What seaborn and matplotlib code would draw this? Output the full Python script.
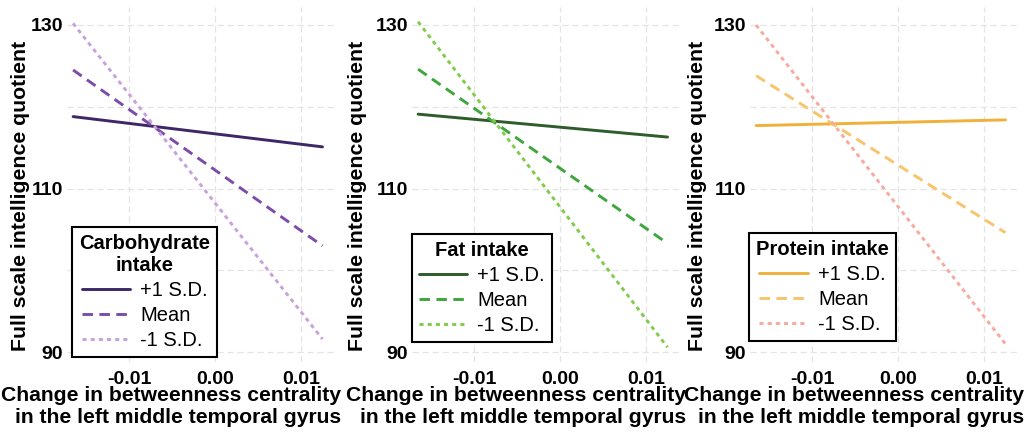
import matplotlib
matplotlib.use("Agg")
import matplotlib.pyplot as plt
import seaborn as sns
import pandas as pd

# ---- data ----
levels = ["+1 S.D.", "Mean", "-1 S.D."]
x_ends = [-0.0165, 0.0125]

carb_plus = [118.8, 115.1]
carb_mean = [124.5, 103.0]
carb_minus = [130.2, 91.6]

fat_plus = [119.1, 116.3]
fat_mean = [124.6, 103.3]
fat_minus = [130.4, 90.6]

prot_plus = [117.7, 118.4]
prot_mean = [123.8, 104.6]
prot_minus = [130.0, 91.0]

legend_titles = ["Carbohydrate\nintake", "Fat intake", "Protein intake"]
x_ticks = [-0.01, 0.00, 0.01]
x_tick_labels = ["-0.01", "0.00", "0.01"]
y_ticks = [90, 110, 130]
y_tick_labels = ["90", "110", "130"]
x_label = "Change in betweenness centrality\nin the left middle temporal gyrus"
y_label = "Full scale intelligence quotient"

palettes = [
    ["#3e2766", "#7d4caa", "#c8a2dc"],
    ["#2e5c2a", "#3ea63c", "#82cc4c"],
    ["#f0b13a", "#f8c46c", "#f6aaa0"],
]
series = [
    [carb_plus, carb_mean, carb_minus],
    [fat_plus, fat_mean, fat_minus],
    [prot_plus, prot_mean, prot_minus],
]

sns.set_theme(style="white")
plt.rcParams["font.family"] = ["Liberation Sans", "DejaVu Sans"]
for k in ["text.color", "axes.labelcolor", "xtick.color", "ytick.color"]:
    plt.rcParams[k] = "black"

W, H = 1029, 432
fig = plt.figure(figsize=(W / 100, H / 100), dpi=100)

zero_px = [215, 560, 898]
px_per_unit_x = 8600.0
ax_left_off, ax_right_off = 148, 122
ax_top, ax_bot = 7, 362
ylab_off = [41, 49, 47]
legend_ll = [(72, 357), (412, 342), (749, 341)]

dash_map = {"+1 S.D.": "", "Mean": (3.6, 2.2), "-1 S.D.": (1.4, 1.4)}

for i in range(3):
    l = zero_px[i] - ax_left_off
    r = zero_px[i] + ax_right_off
    axw = r - l
    axh = ax_bot - ax_top
    ax = fig.add_axes([l / W, (H - ax_bot) / H, axw / W, axh / H])
    rows = []
    for lev, ys in zip(levels, series[i]):
        for xv, yv in zip(x_ends, ys):
            rows.append({"x": xv, "y": yv, "level": lev})
    df = pd.DataFrame(rows)
    pal = dict(zip(levels, palettes[i]))
    sns.lineplot(data=df, x="x", y="y", hue="level", style="level",
                 palette=pal, dashes=dash_map, hue_order=levels, style_order=levels,
                 linewidth=2.1, ax=ax, legend=False)
    ax.set_xlim(-ax_left_off / px_per_unit_x, ax_right_off / px_per_unit_x)
    ax.set_ylim(88.8, 132.2)
    ax.set_xticks(x_ticks)
    ax.set_xticklabels(x_tick_labels, fontsize=14, fontweight="bold")
    ax.set_yticks(y_ticks)
    ax.set_yticklabels(y_tick_labels, fontsize=14, fontweight="bold")
    ax.set_yticks([100, 120], minor=True)
    ax.grid(True, which="both", color="#e4e4e4", linestyle=(0, (5, 3)), linewidth=0.9)
    ax.tick_params(axis="y", length=0, pad=3.0)
    ax.tick_params(axis="x", length=0, pad=6.5)
    ax.tick_params(axis="both", which="minor", length=0)
    for s in ax.spines.values():
        s.set_visible(False)
    ax.set_xlabel(x_label, fontsize=15.2, fontweight="bold", linespacing=1.2,
                  ha="right", multialignment="right")
    ax.xaxis.set_label_coords((axw + 4) / axw, -24 / axh)
    ax.xaxis.label.set_va("top")
    ax.set_ylabel(y_label, fontsize=15.3, fontweight="bold")
    ax.yaxis.label.set_va("baseline")
    ax.yaxis.set_label_coords(-ylab_off[i] / axw, (ax_bot - 196) / axh)
    handles = [plt.Line2D([], [], color=palettes[i][k], linewidth=2.1,
                          linestyle=(0, dash_map[lev]) if dash_map[lev] else "-")
               for k, lev in enumerate(levels)]
    lx, ly = legend_ll[i]
    leg = ax.legend(handles, levels, title=legend_titles[i], loc="lower left",
                    bbox_to_anchor=(lx / W, (H - ly) / H), bbox_transform=fig.transFigure,
                    frameon=True, fancybox=False,
                    fontsize=14.5, title_fontproperties={"weight": "bold", "size": 14.5},
                    handlelength=2.4, handletextpad=0.5, borderpad=0.35,
                    borderaxespad=0, labelspacing=0.3, edgecolor="black", framealpha=1)
    leg.get_title().set_multialignment("center")
    leg.get_frame().set_linewidth(1.5)

fig.savefig("out.png", dpi=100)
